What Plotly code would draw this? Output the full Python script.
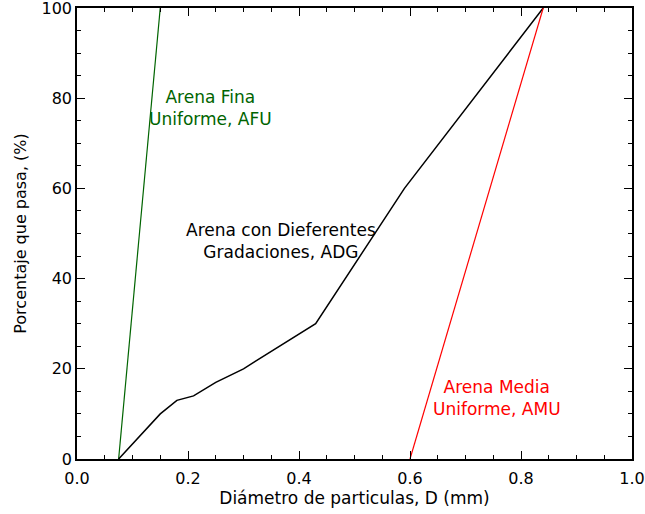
import plotly.graph_objects as go

# Data
afu_x = [0.075, 0.15]
afu_y = [0, 100]
adg_x = [0.075, 0.15, 0.18, 0.21, 0.25, 0.30, 0.43, 0.59, 0.84]
adg_y = [0, 10, 13, 14, 17, 20, 30, 60, 100]
amu_x = [0.60, 0.84]
amu_y = [0, 100]

x_ticks = [0.0, 0.2, 0.4, 0.6, 0.8, 1.0]
x_ticklabels = ["0.0", "0.2", "0.4", "0.6", "0.8", "1.0"]
y_ticks = [0, 20, 40, 60, 80, 100]
y_ticklabels = ["0", "20", "40", "60", "80", "100"]

FONT = "DejaVu Sans"

fig = go.Figure()
fig.add_trace(go.Scatter(x=afu_x, y=afu_y, mode="lines",
                         line=dict(color="#006400", width=1.2), showlegend=False))
fig.add_trace(go.Scatter(x=adg_x, y=adg_y, mode="lines",
                         line=dict(color="black", width=1.5), showlegend=False))
fig.add_trace(go.Scatter(x=amu_x, y=amu_y, mode="lines",
                         line=dict(color="red", width=1.2), showlegend=False))

fig.add_annotation(x=0.24, y=77.9, text="Arena Fina<br>Uniforme, AFU", showarrow=False,
                   font=dict(family=FONT, size=17, color="#006400"), align="center")
fig.add_annotation(x=0.3676, y=48.4, text="Arena con Dieferentes<br>Gradaciones, ADG", showarrow=False,
                   font=dict(family=FONT, size=17, color="black"), align="center")
fig.add_annotation(x=0.757, y=13.6, text="Arena Media<br>Uniforme, AMU", showarrow=False,
                   font=dict(family=FONT, size=17, color="red"), align="center")

axis_common = dict(
    showgrid=False, zeroline=False, showline=True, linecolor="black", linewidth=1.5,
    mirror="allticks", ticks="inside", ticklen=8, tickcolor="black", tickwidth=1,
    tickfont=dict(family=FONT, size=16, color="black"), automargin=False,
    ticklabeloverflow="allow",
)
fig.update_xaxes(range=[0, 1], tickvals=x_ticks, ticktext=x_ticklabels,
                 minor=dict(ticks="inside", ticklen=4, dtick=0.05, tickcolor="black"),
                 ticklabelstandoff=4,
                 title=dict(text="Diámetro de particulas, D (mm)", font=dict(family=FONT, size=17, color="black"),
                            standoff=1),
                 **axis_common)
fig.update_yaxes(range=[0, 100], tickvals=y_ticks, ticktext=y_ticklabels,
                 minor=dict(ticks="inside", ticklen=4, dtick=5, tickcolor="black"),
                 title=dict(text="Porcentaje que pasa, (%)", font=dict(family=FONT, size=16, color="black"),
                            standoff=11),
                 **axis_common)

fig.update_layout(width=645, height=514, margin=dict(l=77, r=13, t=8, b=55),
                  plot_bgcolor="white", paper_bgcolor="white")

fig.write_html("out.html", config={"displayModeBar": False},
               post_script="document.body.style.margin='0';")
